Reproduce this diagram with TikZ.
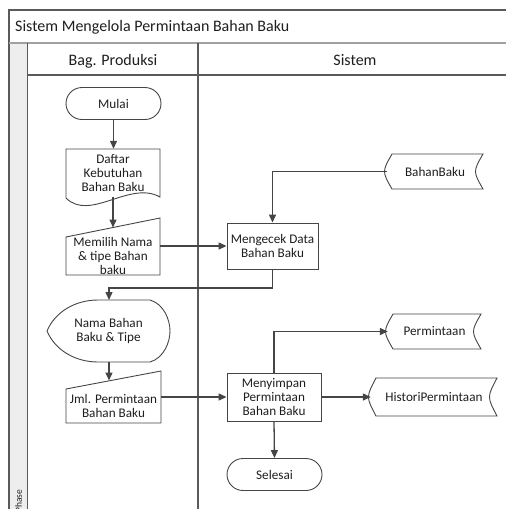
\documentclass[tikz,border=0pt]{standalone}
\usepackage{fontspec}
\setmainfont{Carlito}
\usetikzlibrary{arrows.meta,shapes.misc,calc}
\definecolor{lc}{HTML}{454545}
\definecolor{framec}{HTML}{5A5A5A}
\definecolor{sepc}{HTML}{A0A0A0}
\definecolor{stripc}{HTML}{EEEEEE}
\definecolor{txt}{HTML}{1E1E1E}
\newcommand{\nodefont}{\fontsize{13.2}{13.6}\selectfont}
\newcommand{\headfont}{\fontsize{16}{18}\selectfont}
\begin{document}
\begin{tikzpicture}[x=1pt,y=-1pt,
  frame/.style={draw=framec,line width=1.1pt},
  outline/.style={draw=lc,line width=0.9pt},
  label/.style={align=center,inner sep=0pt,font=\nodefont,text=txt},
  term/.style={label,rounded rectangle,outline,minimum width=95pt,minimum height=32pt},
  proc/.style={label,rectangle,outline},
  conn/.style={draw=lc,line width=1.3pt,-{Triangle[length=8pt,width=7pt]}},
  plain/.style={draw=lc,line width=1.3pt}]
\useasboundingbox (0,0) rectangle (506,509);
\clip (0,0) rectangle (506,509);

% pool frame, title bar and lanes
\fill[stripc] (9,42.5) rectangle (27.5,520);
\draw[frame] (520,10) -- (9,10) -- (9,520);
\draw[draw=sepc,line width=2pt] (9,42.5) -- (520,42.5);
\draw[frame] (27.5,42.5) -- (27.5,520);
\draw[frame] (27.5,75) -- (520,75);
\draw[frame] (198,42.5) -- (198,520);
\node[anchor=base west,inner sep=0pt,font=\headfont,text=txt] (title) at (15,31.7) {Sistem Mengelola Permintaan Bahan Baku};
\node[anchor=base,inner sep=0pt,font=\headfont,text=txt] (lane1) at (113,65.5) {Bag. Produksi};
\node[anchor=base,inner sep=0pt,font=\headfont,text=txt] (lane2) at (355,65.5) {Sistem};
\node[rotate=90,anchor=east,inner sep=0pt,font=\fontsize{9.5}{10}\selectfont,text=txt] (phase) at (18.5,489.5) {Phase};

% terminators
\node[term] (mulai) at (113.5,103.5) {Mulai};
\node[term] (selesai) at (274.5,474.5) {Selesai};

% document
\draw[outline] (66,149) -- (160,149) -- (160,197)
  .. controls (130,180) and (90,222) .. (66,198) -- cycle;
\node[label,minimum width=94pt,minimum height=48pt] (daftar) at (113,173) {Daftar\\Kebutuhan\\Bahan Baku};

% manual inputs
\draw[outline] (66,237) -- (160,218) -- (160,275) -- (66,275) -- cycle;
\node[label,minimum width=94pt,minimum height=38pt] (memilih) at (113,256) {Memilih Nama\\\& tipe Bahan\\baku};
\coordinate (memilihtop) at (113,227.5);
\draw[outline] (66,389) -- (161,371) -- (161,423) -- (66,423) -- cycle;
\node[label,minimum width=95pt,minimum height=34pt] (jml) at (113.5,406) {Jml. Permintaan\\Bahan Baku};
\coordinate (jmltop) at (109,380.5);

% display
\draw[outline] (47,331) .. controls (55,312) and (75,300) .. (98,300) -- (150,300)
  .. controls (164,304) and (170,320) .. (170,331)
  .. controls (170,342) and (164,358) .. (150,362) -- (98,362)
  .. controls (75,362) and (55,350) .. (47,331) -- cycle;
\node[label,minimum width=123pt,minimum height=62pt] (nama) at (108.5,331) {Nama Bahan\\Baku \& Tipe};

% processes
\node[proc,minimum width=91pt,minimum height=46pt] (mengecek) at (272.5,246) {Mengecek Data\\Bahan Baku};
\node[proc,minimum width=94pt,minimum height=48pt] (menyimpan) at (274,397) {Menyimpan\\Permintaan\\Bahan Baku};

% stored data
\draw[outline] (392,154) -- (483,154) .. controls (473,171.5) .. (483,189) -- (392,189)
  .. controls (382,171.5) .. (392,154) -- cycle;
\node[label,minimum width=96pt,minimum height=35pt] (bahanbaku) at (435,171.5) {BahanBaku};
\draw[outline] (393,314) -- (481,314) .. controls (471,331.5) .. (481,349) -- (393,349)
  .. controls (383,331.5) .. (393,314) -- cycle;
\node[label,minimum width=93pt,minimum height=35pt] (permintaan) at (434.5,331.5) {Permintaan};
\draw[outline] (376,378) -- (497,378) .. controls (487,397) .. (497,416) -- (376,416)
  .. controls (366,397) .. (376,378) -- cycle;
\node[label,minimum width=126pt,minimum height=38pt] (histori) at (434,397) {HistoriPermintaan};

% connectors
\draw[conn] (mulai.south) -- (mulai.south |- daftar.north);
\draw[conn] (daftar.south) -- (memilihtop);
\draw[conn] (memilih.east |- mengecek.west) -- (mengecek.west);
\draw[conn] (bahanbaku.west) -| (mengecek.north);
\draw[conn] (mengecek.south) |- (109,288) -- (109,300);
\draw[conn] (109,362) -- (jmltop);
\draw[conn] (jml.east |- menyimpan.west) -- (menyimpan.west);
\draw[conn] (menyimpan.north) |- (permintaan.west);
\draw[conn] (menyimpan.east) -- (histori.west);
\draw[conn] (menyimpan.south) -- (selesai.north);
\end{tikzpicture}
\end{document}
